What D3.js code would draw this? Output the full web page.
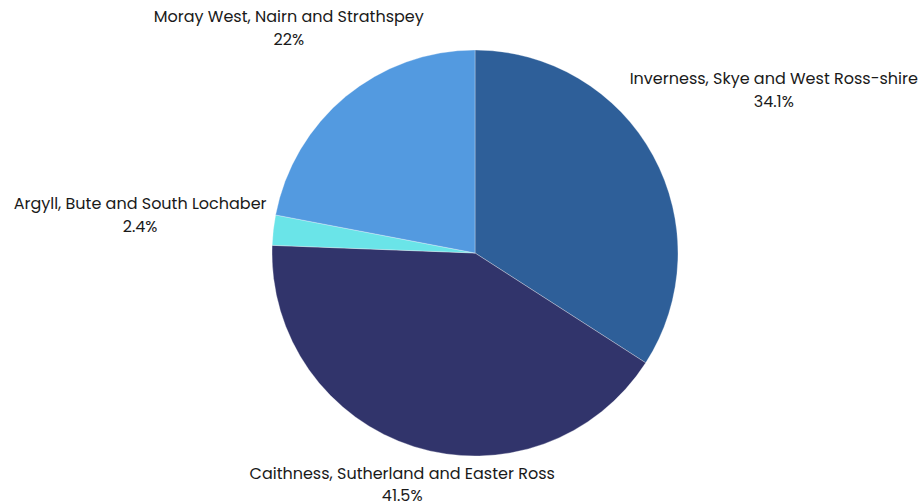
<!DOCTYPE html>
<html>
<head>
<meta charset="utf-8">
<script src="https://cdn.jsdelivr.net/npm/d3@7"></script>
<style>
  html, body { margin: 0; padding: 0; background: #ffffff; }
  svg { display: block; }
  text { font-family: "Poppins", "Lato", "Open Sans", sans-serif; fill: #1a1a1a; }
</style>
</head>
<body>
<svg id="chart" width="920" height="504"></svg>
<script>
const categories = [
  "Inverness, Skye and West Ross-shire",
  "Caithness, Sutherland and Easter Ross",
  "Argyll, Bute and South Lochaber",
  "Moray West, Nairn and Strathspey"
];
const values = [34.1, 41.5, 2.4, 22];
const valueLabels = ["34.1%", "41.5%", "2.4%", "22%"];
const colors = ["#2e5f99", "#31346b", "#6ae4e8", "#539ae0"];

const W = 920, H = 504;
const cx = 475, cy = 253, r = 203;
const svg = d3.select("#chart");
const g = svg.append("g").attr("transform", `translate(${cx},${cy})`);

const data = categories.map((c, i) => ({ name: c, value: values[i], label: valueLabels[i], color: colors[i] }));
const pie = d3.pie().value(d => d.value).sort(null);
const arcs = pie(data);
const arc = d3.arc().innerRadius(0).outerRadius(r);

g.selectAll("path.slice").data(arcs).enter().append("path")
  .attr("class", "slice")
  .attr("d", arc)
  .attr("fill", d => d.data.color)
  .attr("stroke", "#ffffff")
  .attr("stroke-width", 0.5)
  .attr("stroke-opacity", 0.6);

const fontSize = 16, lineH = 22.5, clearR = r + 6;
const labels = g.selectAll("g.lbl").data(arcs).enter().append("g").attr("class", "lbl");
labels.append("text").attr("class", "l1").attr("text-anchor", "middle")
  .attr("font-size", fontSize).text(d => d.data.name);
labels.append("text").attr("class", "l2").attr("text-anchor", "middle")
  .attr("font-size", fontSize).attr("y", lineH).text(d => d.data.label);

function boxDist(bx, by, hw, hh) {
  const nx = Math.max(Math.abs(bx) - hw, 0) * (Math.abs(bx) > hw ? 1 : 0);
  const ny = Math.max(Math.abs(by) - hh, 0);
  return Math.hypot(nx, ny);
}

labels.each(function(d) {
  const sel = d3.select(this);
  const w = Math.max(sel.select("text.l1").node().getComputedTextLength(),
                     sel.select("text.l2").node().getComputedTextLength());
  const hw = w / 2, hh = lineH;
  const a = (d.startAngle + d.endAngle) / 2;
  const ux = Math.sin(a), uy = -Math.cos(a);
  let lo = 0, hi = 1000;
  for (let k = 0; k < 60; k++) {
    const mid = (lo + hi) / 2;
    if (boxDist(ux * mid, uy * mid, hw, hh) < clearR) lo = mid; else hi = mid;
  }
  const bx = ux * hi, by = uy * hi;
  // first line center = box center - lineH/2; baseline ~ center + 0.35em
  sel.attr("transform", `translate(${bx},${by - lineH / 2 + fontSize * 0.35})`);
});
</script>
</body>
</html>
